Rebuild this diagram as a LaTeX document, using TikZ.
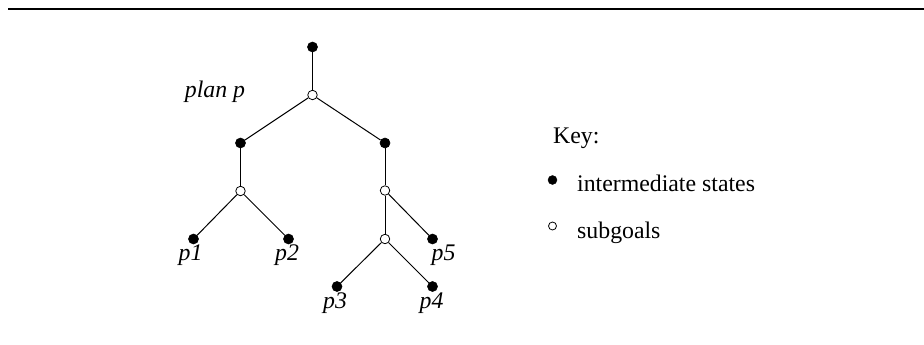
\documentclass[tikz,border=0pt]{standalone}
\usepackage{fontspec}
\setmainfont{Liberation Serif}
\begin{document}
\begin{tikzpicture}[x=1pt,y=-1pt,
  full/.style={circle,fill=black,draw=black,line width=0.6pt,inner sep=0pt,minimum size=10pt},
  hollow/.style={circle,fill=white,draw=black,line width=0.8pt,inner sep=0pt,minimum size=9.5pt},
  keyfull/.style={circle,fill=black,draw=black,inner sep=0pt,minimum size=9pt},
  keyhollow/.style={circle,fill=white,draw=black,line width=0.8pt,inner sep=0pt,minimum size=8pt},
  edge/.style={line width=1pt},
  lab/.style={font=\fontsize{23.8}{26}\selectfont\itshape,inner sep=0pt,anchor=base},
  keytext/.style={font=\fontsize{23.8}{26}\selectfont,inner sep=0pt,anchor=base west}]
\useasboundingbox (0,0) rectangle (924,345);
\coordinate (l0) at (8,9);
\coordinate (l1) at (924,9);
\draw[line width=2.2pt] (l0) -- (l1);
% tree nodes
\node[full] (r) at (312.5,47) {};
\node[hollow] (s0) at (312.5,95) {};
\node[full] (a) at (240.5,143) {};
\node[full] (b) at (385,143) {};
\node[hollow] (sa) at (240.5,191) {};
\node[hollow] (sb) at (385,190.5) {};
\node[full] (p1) at (193.5,239) {};
\node[full] (p2) at (288.5,239) {};
\node[full] (p5) at (432.5,239) {};
\node[hollow] (sc) at (385,239) {};
\node[full] (p3) at (337,286.5) {};
\node[full] (p4) at (432.5,286.5) {};
% edges
\draw[edge] (r) -- (s0);
\draw[edge] (s0) -- (a);
\draw[edge] (s0) -- (b);
\draw[edge] (a) -- (sa);
\draw[edge] (b) -- (sb);
\draw[edge] (sa) -- (p1);
\draw[edge] (sa) -- (p2);
\draw[edge] (sb) -- (p5);
\draw[edge] (sb) -- (sc);
\draw[edge] (sc) -- (p3);
\draw[edge] (sc) -- (p4);
% labels
\node[lab] (tplan) at (215,98) {plan p};
\node[lab] (t1) at (190.5,260) {p1};
\node[lab] (t2) at (287,260) {p2};
\node[lab] (t5) at (443.5,260) {p5};
\node[lab] (t3) at (335,308) {p3};
\node[lab] (t4) at (431.5,308) {p4};
% key
\node[keytext] (key) at (553,143) {Key:};
\node[keyfull] (kf) at (552.5,180) {};
\node[keytext] (kft) at (577,191) {intermediate states};
\node[keyhollow] (kh) at (552.5,226) {};
\node[keytext] (kht) at (577,238) {subgoals};
\end{tikzpicture}
\end{document}
